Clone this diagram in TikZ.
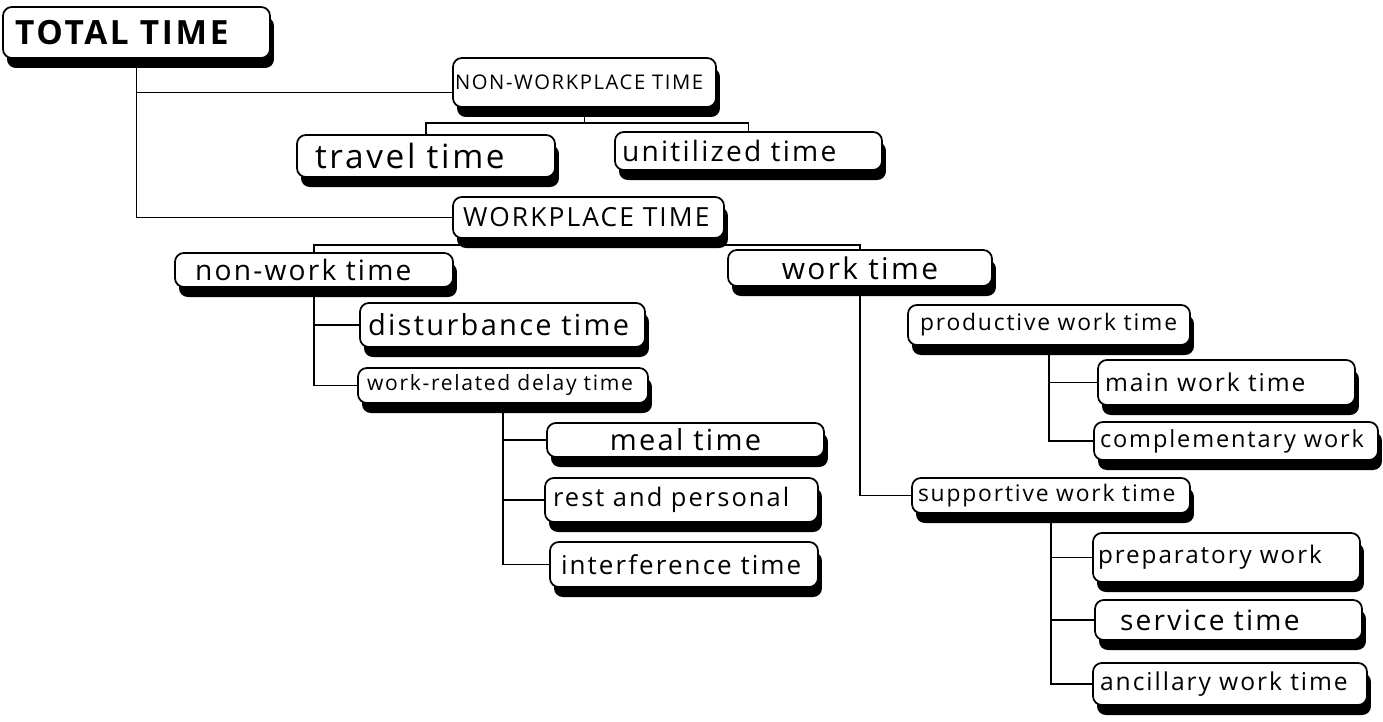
\documentclass[tikz,border=0pt]{standalone}
\usepackage{fontspec}
\setmainfont{Open Sans}[LetterSpace=8]
\usetikzlibrary{shadows,positioning}

\begin{document}
\begin{tikzpicture}[
    x=0.02cm, y=-0.02cm,
    timebox/.style={rectangle, draw, fill=white, line width=1pt, rounded corners=5pt, inner ysep=0pt, align=left,
      drop shadow={shadow xshift=0.08cm, shadow yshift=-0.2cm, fill=black, opacity=1}},
    dims/.style 2 args={minimum width=#1cm, minimum height=#2cm},
    txt/.style 2 args={text width=#1cm, inner xsep=#2cm},
    fs/.style={font=\fontsize{#1}{#1}\selectfont},
    link/.style={line width=1.1pt}
  ]
    \useasboundingbox (0,0) rectangle (1383,721);

    % Top level
    \node[timebox, dims={5.34}{1.02}, txt={4.86}{0.24}, font=\fontsize{19}{19}\selectfont\bfseries] (tot) at (136.5,32.5) {TOTAL TIME};

    % Non-workplace branch
    \node[timebox, dims={5.26}{0.98}, txt={5.18}{0.04}, fs=11.5] (nonwp) at (584.5,82.5) {NON-WORKPLACE TIME};
    \node[timebox, dims={5.16}{0.84}, txt={4.44}{0.36}, fs=19] (travel) at (426,156) {travel time};
    \node[timebox, dims={5.34}{0.76}, txt={5.06}{0.14}, fs=16] (unutil) at (748.5,151) {unitilized time};

    % Workplace branch
    \node[timebox, dims={5.42}{0.82}, txt={5.02}{0.20}, fs=15] (wp) at (588.5,217.5) {WORKPLACE TIME};
    \node[timebox, dims={5.56}{0.68}, txt={4.76}{0.40}, fs=16] (nonwork) at (314,270) {non-work time};
    \node[timebox, dims={5.70}{0.88}, txt={5.38}{0.16}, fs=16.5] (disturb) at (502.5,325) {disturbance time};
    \node[timebox, dims={5.80}{0.70}, txt={5.44}{0.18}, fs=12] (wrdelay) at (503,385.5) {work-related delay time};
    \node[timebox, dims={5.54}{0.68}, align=center, fs=16.5] (meal) at (685.5,440) {meal time};
    \node[timebox, dims={5.46}{0.88}, txt={5.14}{0.16}, fs=14.5] (rest) at (681.5,500) {rest and personal};
    \node[timebox, dims={5.36}{0.90}, txt={4.92}{0.22}, fs=14.8] (interf) at (684,564.5) {interference time};

    % Work time
    \node[timebox, dims={5.28}{0.72}, align=center, fs=17] (work) at (860,268) {work time};
    \node[timebox, dims={5.64}{0.80}, txt={5.16}{0.24}, fs=13] (prod) at (1049,325) {productive work time};
    \node[timebox, dims={5.14}{0.90}, txt={4.86}{0.14}, fs=14] (mainw) at (1226.5,382.5) {main work time};
    \node[timebox, dims={5.68}{0.76}, txt={5.44}{0.12}, fs=13.4] (compl) at (1236,441) {complementary work};
    \node[timebox, dims={5.56}{0.70}, txt={5.32}{0.12}, fs=13] (supp) at (1051,495.5) {supportive work time};
    \node[timebox, dims={5.34}{0.98}, txt={5.14}{0.10}, fs=13.8] (prep) at (1226.5,557.5) {preparatory work};
    \node[timebox, dims={5.34}{0.80}, txt={4.34}{0.50}, fs=16] (serv) at (1228.5,620) {service time};
    \node[timebox, dims={5.48}{0.84}, txt={5.20}{0.14}, fs=14] (ancil) at (1230,684) {ancillary work time};

    % Connectors
    \draw[link] (tot.south) |- ([yshift=-0.2cm]nonwp.west);
    \draw[link] (tot.south) |- (wp.west);

    \draw[link] (nonwp.south) -- ++(0,15) coordinate (nwsplit);
    \draw[link] (travel.north) |- (nwsplit) -| (unutil.north);

    \draw[link] (wp.south) -- ++(0,6) coordinate (wpsplit);
    \draw[link] (nonwork.north) |- (wpsplit) -| (work.north);

    \draw[link] (nonwork.south) |- (disturb.west);
    \draw[link] (nonwork.south) |- (wrdelay.west);

    \draw[link] (wrdelay.south) |- (meal.west);
    \draw[link] (wrdelay.south) |- (rest.west);
    \draw[link] (wrdelay.south) |- (interf.west);

    \draw[link] (work.south) |- (supp.west);
    \draw[link] (prod.south) |- (mainw.west);
    \draw[link] (prod.south) |- (compl.west);

    \draw[link] (supp.south) |- (prep.west);
    \draw[link] (supp.south) |- (serv.west);
    \draw[link] (supp.south) |- (ancil.west);
\end{tikzpicture}
\end{document}
